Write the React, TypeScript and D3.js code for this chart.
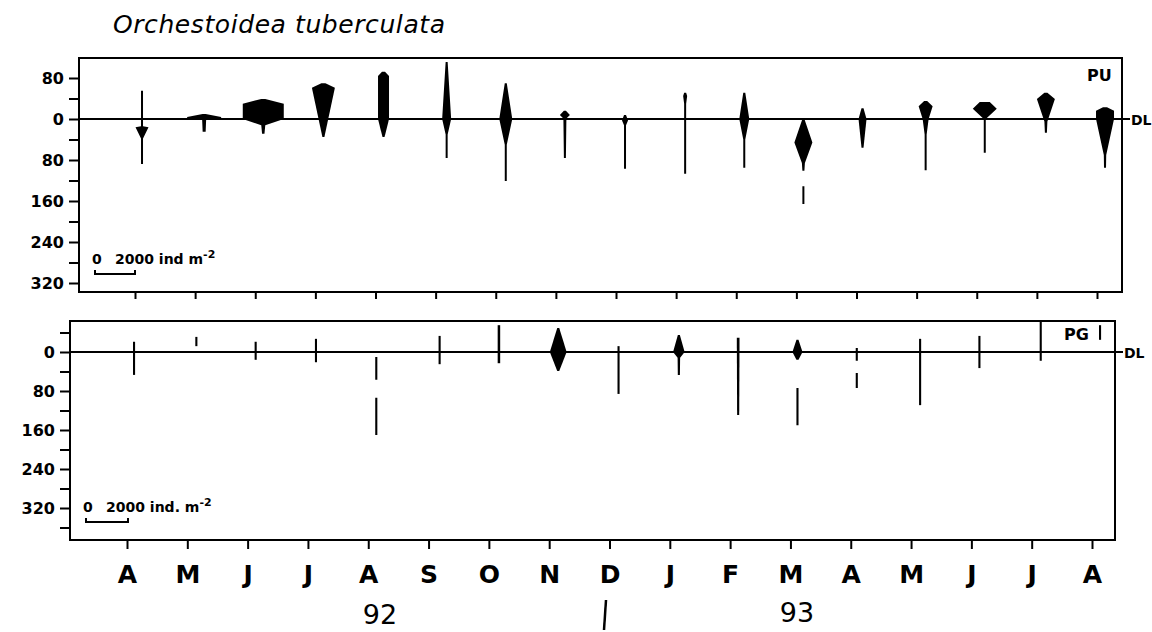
import * as d3 from 'd3';
import { useEffect, useRef } from 'react';

// months of the sampling series, Apr 92 .. Aug 93
const months = ['A', 'M', 'J', 'J', 'A', 'S', 'O', 'N', 'D', 'J', 'F', 'M', 'A', 'M', 'J', 'J', 'A']
// day of month of each sampling
const sampleDay = [3.5, 4.5, 4, 4, 4, 5.5, 5, 4.5, 4.5, 4.5, 4, 3.5, 3, 4.5, 4, 4.5, 4]

const puTicks = [-80, 0, 80, 160, 240, 320]
const puMinor = [-40, 40, 120, 200, 280]
const pgTicks = [0, 80, 160, 240, 320]
const pgMinor = [-40, 40, 120, 200, 280, 360]

// kite profiles: [level (cm from DL, + = below), density ind m-2]; 0 = gap
const puProfiles = [
    [[-55, 100], [14, 100], [16, 650], [38, 100], [88, 100]],
    [[-10, 150], [-4, 1700], [0, 1700], [1, 200], [25, 150]],
    [[-39, 200], [-30, 2050], [0, 2050], [12, 200], [29, 120]],
    [[-70, 200], [-61, 1150], [35, 80]],
    [[-92, 150], [-84, 550], [0, 550], [20, 300], [35, 80]],
    [[-111, 80], [0, 450], [30, 100], [76, 100]],
    [[-70, 80], [0, 650], [50, 100], [121, 100]],
    [[-16, 100], [-8, 500], [-1, 150], [76, 100]],
    [[-8, 100], [3, 300], [12, 100], [97, 100]],
    [[-51, 100], [-45, 200], [-30, 100], [107, 100]],
    [[-51, 80], [0, 500], [40, 100], [95, 100]],
    [[0, 80], [46, 900], [86, 150], [101, 100], [116, 0], [131, 100], [166, 100]],
    [[-21, 80], [0, 400], [56, 80]],
    [[-35, 150], [-25, 700], [0, 300], [30, 100], [100, 100]],
    [[-33, 500], [-20, 1200], [0, 100], [66, 100]],
    [[-51, 150], [-39, 900], [5, 150], [27, 100]],
    [[-23, 200], [-16, 900], [0, 900], [70, 120], [95, 100]],
]

const pgProfiles = [
    [[-21, 100], [47, 100]],
    [[-31, 100], [-12, 100]],
    [[-21, 100], [16, 100]],
    [[-27, 100], [21, 100]],
    [[10, 100], [57, 100], [75, 0], [94, 100], [170, 100]],
    [[-33, 100], [25, 100]],
    [[-55, 120], [23, 120]],
    [[-49, 80], [0, 800], [39, 80]],
    [[-12, 100], [86, 100]],
    [[-35, 80], [0, 550], [12, 120], [47, 100]],
    [[-29, 130], [129, 100]],
    [[-25, 80], [0, 480], [16, 100], [45, 0], [74, 100], [150, 100]],
    [[-8, 100], [18, 100], [30, 0], [43, 100], [74, 100]],
    [[-27, 100], [109, 100]],
    [[-33, 100], [33, 100]],
    [[-62, 100], [18, 100]],
    [[-55, 100], [-25, 100]],
]

const FONT = '"DejaVu Sans", sans-serif'

export default function App() {
    const svgRef = useRef(null)

    useEffect(() => {
        drawChart(svgRef.current)
    }, [svgRef])

    return (
        <div>
            <svg ref={svgRef} style={{ position: 'absolute', left: 0, top: 0 }}></svg>
        </div>
    )
}

function drawPanel(svg, p) {
    const x = d3.scaleLinear().domain([0, months.length - 1]).range([p.x0, p.x1])
    const y = d3.scaleLinear().domain([0, 80]).range([p.zeroY, p.zeroY + p.px80])
    const w = d3.scaleLinear().domain([0, 2000]).range([0, p.barPx])

    const g = svg.append('g')

    // y axis, labelled + minor ticks
    const yAxis = g.append('g')
        .attr('transform', 'translate(' + p.left + ',0)')
        .call(d3.axisLeft(y).tickValues(p.ticks).tickFormat(d => Math.abs(d)).tickSize(10).tickPadding(5))
    yAxis.append('g').call(d3.axisLeft(y).tickValues(p.minor).tickFormat('').tickSize(10))
    yAxis.selectAll('.domain').remove()
    yAxis.selectAll('line').attr('stroke', '#000').attr('stroke-width', 2)
    yAxis.selectAll('text')
        .attr('font-family', FONT).attr('font-weight', 'bold').attr('font-size', 16).attr('fill', '#000')

    // x axis ticks
    const xAxis = g.append('g')
        .attr('transform', 'translate(0,' + p.bottom + ')')
        .call(d3.axisBottom(x).tickValues(d3.range(months.length))
            .tickFormat(p.monthLabels ? (d => months[d]) : '')
            .tickSize(p.monthLabels ? 9 : 7).tickPadding(16))
    xAxis.selectAll('.domain').remove()
    xAxis.selectAll('line').attr('stroke', '#000').attr('stroke-width', 2)
    xAxis.selectAll('text')
        .attr('font-family', FONT).attr('font-weight', 'bold').attr('font-size', 25).attr('fill', '#000')

    // frame
    g.append('rect')
        .attr('x', p.left).attr('y', p.top)
        .attr('width', p.right - p.left).attr('height', p.bottom - p.top)
        .attr('fill', 'none').attr('stroke', '#000').attr('stroke-width', 2)

    // datum line
    g.append('line')
        .attr('x1', p.left).attr('x2', p.right + 8)
        .attr('y1', y(0)).attr('y2', y(0))
        .attr('stroke', '#000').attr('stroke-width', 2)
    g.append('text')
        .attr('x', p.right + 9).attr('y', y(0) + 6)
        .attr('font-family', FONT).attr('font-weight', 'bold').attr('font-size', 14)
        .text('DL')

    // kites
    p.profiles.forEach((prof, i) => {
        const cx = x(i + sampleDay[i] / 30)
        const hw = v => Math.max(w(v) / 2, 1)
        const area = d3.area()
            .defined(d => d[1] > 0)
            .y(d => y(d[0]))
            .x0(d => cx - hw(d[1]))
            .x1(d => cx + hw(d[1]))
        g.append('path')
            .datum(prof)
            .attr('d', area)
            .attr('fill', '#000')
    })

    // site label
    g.append('text')
        .attr('x', p.siteX).attr('y', p.siteY)
        .attr('font-family', FONT).attr('font-weight', 'bold').attr('font-size', 16)
        .text(p.site)

    // scale bar
    const bx = p.barX, by = p.barY
    g.append('path')
        .attr('d', 'M' + bx + ',' + (by - 4) + 'V' + by + 'H' + (bx + w(2000)) + 'V' + (by - 4))
        .attr('fill', 'none').attr('stroke', '#000').attr('stroke-width', 2)
    const lt = g.append('text')
        .attr('y', by - 10)
        .attr('font-family', FONT).attr('font-weight', 'bold').attr('font-size', 14)
    lt.append('tspan').attr('x', bx - 3).text('0')
    lt.append('tspan').attr('x', bx + 20).text('2000 ' + p.unit + ' m')
    lt.append('tspan').attr('dy', -6).attr('font-size', 11).text('-2')
}

function drawChart(svgEl) {
    const svg = d3.select(svgEl)
        .attr('width', 1152)
        .attr('height', 632)
    svg.selectAll('*').remove()

    svg.append('rect').attr('width', 1152).attr('height', 632).attr('fill', '#fff')

    svg.append('text')
        .attr('x', 113).attr('y', 33)
        .attr('font-family', FONT).attr('font-style', 'italic').attr('font-size', 25)
        .attr('textLength', 332).attr('lengthAdjust', 'spacing')
        .text('Orchestoidea tuberculata')

    drawPanel(svg, {
        left: 79, right: 1122, top: 58, bottom: 292,
        zeroY: 119, px80: 41, x0: 135, x1: 1097, barPx: 40,
        ticks: puTicks, minor: puMinor, profiles: puProfiles,
        site: 'PU', siteX: 1087, siteY: 81,
        barX: 95, barY: 274, unit: 'ind', monthLabels: false,
    })

    drawPanel(svg, {
        left: 70, right: 1115, top: 321, bottom: 540,
        zeroY: 352, px80: 39, x0: 127, x1: 1092, barPx: 42,
        ticks: pgTicks, minor: pgMinor, profiles: pgProfiles,
        site: 'PG', siteX: 1064, siteY: 340,
        barX: 86, barY: 522, unit: 'ind.', monthLabels: true,
    })

    // years
    svg.append('text')
        .attr('x', 380).attr('y', 624).attr('text-anchor', 'middle')
        .attr('font-family', FONT).attr('font-size', 27)
        .text('92')
    svg.append('text')
        .attr('x', 797).attr('y', 622).attr('text-anchor', 'middle')
        .attr('font-family', FONT).attr('font-size', 27)
        .text('93')
    svg.append('line')
        .attr('x1', 606).attr('y1', 600).attr('x2', 604).attr('y2', 630)
        .attr('stroke', '#000').attr('stroke-width', 2.5)
}
